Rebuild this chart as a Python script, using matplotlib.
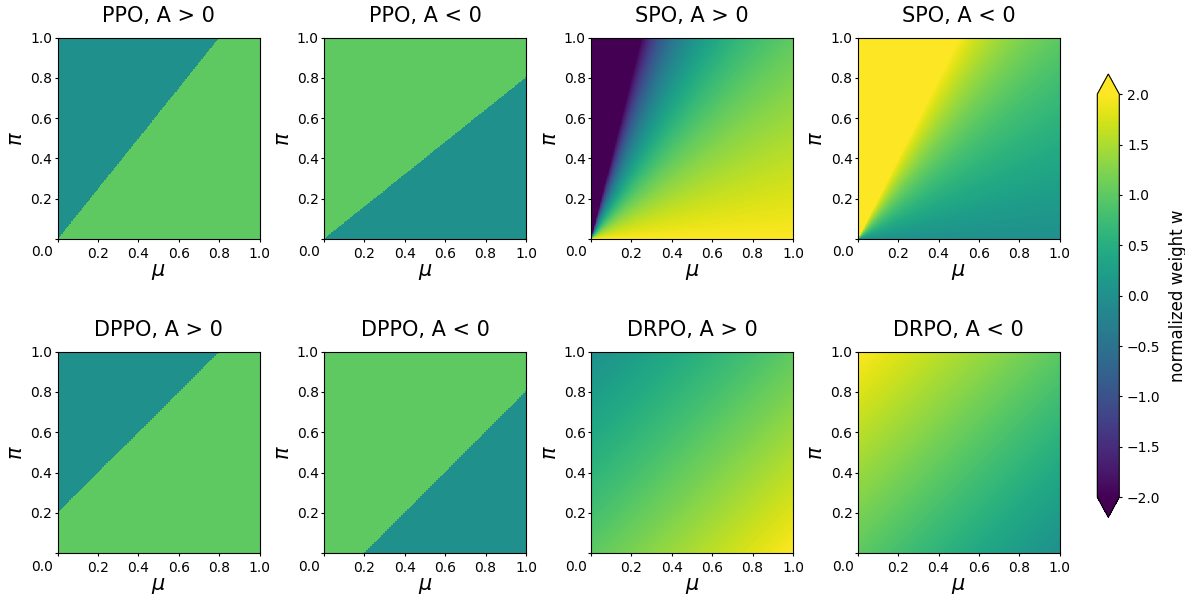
import numpy as np
import matplotlib
matplotlib.use("Agg")
import matplotlib.pyplot as plt
from matplotlib.transforms import offset_copy

# ---- data / parameters ----
row1_titles = ["PPO, A > 0", "PPO, A < 0", "SPO, A > 0", "SPO, A < 0"]
row2_titles = ["DPPO, A > 0", "DPPO, A < 0", "DRPO, A > 0", "DRPO, A < 0"]
ppo_ratio_bounds = [0.8, 1.25]      # ratio pi/mu clip bounds (lower, upper)
dppo_tv_delta = 0.2                 # |pi - mu| threshold
spo_eps = 1.0                       # SPO quadratic penalty scale
drpo_slope = 1.0                    # DRPO linear weight slope
tick_vals = [0.0, 0.2, 0.4, 0.6, 0.8, 1.0]
tick_labels = ["", "0.2", "0.4", "0.6", "0.8", "1.0"]
cbar_ticks = [-2.0, -1.5, -1.0, -0.5, 0.0, 0.5, 1.0, 1.5, 2.0]
vmin, vmax = -2.0, 2.0

n = 300
mu_axis = np.linspace(1e-3, 1.0, n)
pi_axis = np.linspace(0.0, 1.0, n)
MU, PI = np.meshgrid(mu_axis, pi_axis)
R = PI / MU

fields = {
    "PPO, A > 0": np.where(R <= ppo_ratio_bounds[1], 1.0, 0.0),
    "PPO, A < 0": np.where(R >= ppo_ratio_bounds[0], 1.0, 0.0),
    "SPO, A > 0": 1.0 - (R - 1.0) / spo_eps,
    "SPO, A < 0": 1.0 + (R - 1.0) / spo_eps,
    "DPPO, A > 0": np.where(PI - MU <= dppo_tv_delta, 1.0, 0.0),
    "DPPO, A < 0": np.where(MU - PI <= dppo_tv_delta, 1.0, 0.0),
    "DRPO, A > 0": 1.0 + drpo_slope * (MU - PI),
    "DRPO, A < 0": 1.0 - drpo_slope * (MU - PI),
}

W, H = 1185, 596
fig = plt.figure(figsize=(W / 100, H / 100), dpi=100)

col_left = [57.5, 324.0, 591.0, 857.7]
row_top = [37.5, 351.7]
ax_w, ax_h = 202.0, 201.4

im = None
for r, titles in enumerate([row1_titles, row2_titles]):
    for c, t in enumerate(titles):
        left = col_left[c] / W
        bottom = 1 - (row_top[r] + ax_h) / H
        ax = fig.add_axes([left, bottom, ax_w / W, ax_h / H])
        im = ax.imshow(fields[t], origin="lower", extent=[0, 1, 0, 1],
                       cmap="viridis", vmin=vmin, vmax=vmax, aspect="auto",
                       interpolation="nearest")
        ax.set_xlim(0, 1)
        ax.set_ylim(0, 1)
        ax.set_title(t, fontsize=15, pad=11)
        ax.set_xticks(tick_vals)
        ax.set_xticklabels(tick_labels, fontsize=10)
        ax.set_yticks(tick_vals)
        ax.set_yticklabels(tick_labels, fontsize=10)
        ax.tick_params(axis="both", length=2.5)
        ax.tick_params(axis="x", pad=3.2)
        ax.tick_params(axis="y", pad=1.2)
        ax.set_xlabel(r"$\mu$", fontsize=15, labelpad=1)
        ax.set_ylabel(r"$\pi$", fontsize=15, labelpad=3)
        tr = offset_copy(ax.transAxes, fig=fig, x=-4.0, y=-6.5, units="dots")
        ax.text(0, 0, "0.0", transform=tr, ha="right", va="top", fontsize=10)

cax = fig.add_axes([1097.3 / W, 1 - 517.3 / H, 22.0 / W, 443.3 / H])
cb = fig.colorbar(im, cax=cax, extend="both", ticks=cbar_ticks)
cb.ax.tick_params(labelsize=10, length=2.5, pad=3)
cb.ax.set_yticklabels([f"{v:.1f}".replace("-", "\u2212") for v in cbar_ticks])
cb.set_label("normalized weight w", fontsize=12, labelpad=6)

fig.savefig("out.png", dpi=100)
